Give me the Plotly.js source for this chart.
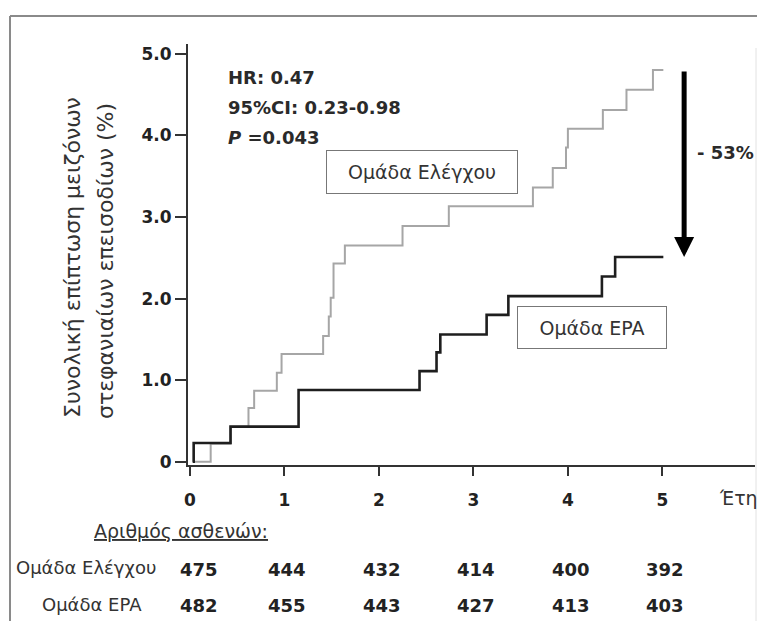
<!DOCTYPE html>
<html>
<head>
<meta charset="utf-8">
<script src="https://cdn.plot.ly/plotly-3.0.1.min.js"></script>
<style>html,body{margin:0;padding:0;background:#fff;}#chart{width:758px;height:621px;}</style>
</head>
<body>
<div id="chart"></div>
<script>
// ---- data ----
const controlYears = [0.03, 0.22, 0.43, 0.62, 0.68, 0.92, 0.97, 1.41, 1.47, 1.49, 1.52, 1.64, 2.25, 2.74, 3.63, 3.84, 3.98, 4.00, 4.37, 4.62, 4.90, 5.01];
const controlPct   = [0.00, 0.22, 0.43, 0.66, 0.87, 1.09, 1.32, 1.54, 1.78, 2.01, 2.43, 2.65, 2.89, 3.13, 3.36, 3.60, 3.85, 4.08, 4.31, 4.56, 4.80, 4.80];
const epaYears = [0.03, 0.04, 0.43, 1.15, 2.43, 2.61, 2.65, 3.14, 3.37, 4.36, 4.50, 5.01];
const epaPct   = [0.00, 0.23, 0.43, 0.88, 1.11, 1.34, 1.56, 1.80, 2.03, 2.27, 2.51, 2.51];

const xTickVals = [0, 1, 2, 3, 4, 5];
const xTickText = ['0', '1', '2', '3', '4', '5'];
const yTickVals = [0, 1, 2, 3, 4, 5];
const yTickText = ['0', '1.0', '2.0', '3.0', '4.0', '5.0'];

const riskYears = [0, 1, 2, 3, 4, 5];
const controlAtRisk = [475, 444, 432, 414, 400, 392];
const epaAtRisk = [482, 455, 443, 427, 413, 403];

const groupNames = ['Ομάδα Ελέγχου', 'Ομάδα EPA'];
const statsLines = ['HR: 0.47', '95%CI: 0.23-0.98', '<i>P</i> =0.043'];
const reductionLabel = '- 53%';
const yTitleLines = ['Συνολική επίπτωση μειζόνων', 'στεφανιαίων επεισοδίων (%)'];
const xTitle = 'Έτη';
const riskHeader = 'Αριθμός ασθενών:';

// ---- styling / layout ----
const FONT = 'DejaVu Sans, Arial, sans-serif';
const L = 188, T = 44, PW = 567, PH = 421;      // plot area in pixels
const px = v => (v - L) / PW;                    // pixel -> paper x
const py = v => (T + PH - v) / PH;               // pixel -> paper y

const traces = [
  {x: controlYears, y: controlPct, type: 'scatter', mode: 'lines', line: {shape: 'hv', color: '#a6a6a6', width: 2}, hoverinfo: 'skip', name: groupNames[0]},
  {x: epaYears, y: epaPct, type: 'scatter', mode: 'lines', line: {shape: 'hv', color: '#1e1e1e', width: 2.6}, hoverinfo: 'skip', name: groupNames[1]}
];

const ann = [];
const statsY = [4.71, 4.34, 3.97];
statsLines.forEach((t, i) => ann.push({xref: 'x', yref: 'y', x: 0.38, y: statsY[i], xanchor: 'left', yanchor: 'middle', text: '<b>' + t + '</b>', showarrow: false, font: {family: FONT, size: 18, color: '#2a2a2a'}}));
ann.push({xref: 'x', yref: 'y', x: 2.46, y: 3.55, xanchor: 'center', yanchor: 'middle', text: groupNames[0], showarrow: false, width: 190, height: 42, bordercolor: '#777', borderwidth: 1, borderpad: 0, bgcolor: '#fff', font: {family: FONT, size: 19, color: '#333'}});
ann.push({xref: 'x', yref: 'y', x: 4.26, y: 1.65, xanchor: 'center', yanchor: 'middle', text: groupNames[1], showarrow: false, width: 148, height: 41, bordercolor: '#777', borderwidth: 1, borderpad: 0, bgcolor: '#fff', font: {family: FONT, size: 19, color: '#333'}});
ann.push({xref: 'x', yref: 'y', x: 5.23, y: 2.51, axref: 'x', ayref: 'y', ax: 5.23, ay: 4.80, text: '', showarrow: true, arrowhead: 2, arrowsize: 0.8, arrowwidth: 5, arrowcolor: '#000'});
ann.push({xref: 'x', yref: 'y', x: 5.35, y: 3.79, xanchor: 'left', yanchor: 'middle', text: '<b>' + reductionLabel + '</b>', showarrow: false, font: {family: FONT, size: 18, color: '#2a2a2a'}});
ann.push({xref: 'paper', yref: 'paper', x: px(72), y: py(258), xanchor: 'center', yanchor: 'middle', text: yTitleLines[0], textangle: -90, showarrow: false, font: {family: FONT, size: 22, color: '#333'}});
ann.push({xref: 'paper', yref: 'paper', x: px(105), y: py(261), xanchor: 'center', yanchor: 'middle', text: yTitleLines[1], textangle: -90, showarrow: false, font: {family: FONT, size: 22, color: '#333'}});
ann.push({xref: 'paper', yref: 'paper', x: px(738), y: py(498), xanchor: 'center', yanchor: 'middle', text: xTitle, showarrow: false, font: {family: FONT, size: 19, color: '#333'}});
ann.push({xref: 'paper', yref: 'paper', x: px(181), y: py(531), xanchor: 'center', yanchor: 'middle', text: '<u>' + riskHeader + '</u>', showarrow: false, font: {family: FONT, size: 19, color: '#333'}});
ann.push({xref: 'paper', yref: 'paper', x: px(86), y: py(567), xanchor: 'center', yanchor: 'middle', text: groupNames[0], showarrow: false, font: {family: FONT, size: 18, color: '#333'}});
ann.push({xref: 'paper', yref: 'paper', x: px(92), y: py(604), xanchor: 'center', yanchor: 'middle', text: groupNames[1], showarrow: false, font: {family: FONT, size: 18, color: '#333'}});
riskYears.forEach((yr, i) => {
  const sh = i === 0 ? 9 : 3;
  ann.push({xref: 'x', yref: 'paper', x: yr, xshift: sh, y: py(569), xanchor: 'center', yanchor: 'middle', text: '<b>' + controlAtRisk[i] + '</b>', showarrow: false, font: {family: FONT, size: 18, color: '#222'}});
  ann.push({xref: 'x', yref: 'paper', x: yr, xshift: sh, y: py(605), xanchor: 'center', yanchor: 'middle', text: '<b>' + epaAtRisk[i] + '</b>', showarrow: false, font: {family: FONT, size: 18, color: '#222'}});
});

const shapes = [
  {type: 'line', xref: 'paper', yref: 'paper', x0: px(10), x1: px(10), y0: py(16), y1: py(640), line: {color: '#8a8a8a', width: 2}},
  {type: 'line', xref: 'paper', yref: 'paper', x0: px(10), x1: px(757), y0: py(16), y1: py(16), line: {color: '#8a8a8a', width: 2}},
  {type: 'line', xref: 'paper', yref: 'paper', x0: px(756), x1: px(756), y0: py(48), y1: py(640), line: {color: '#e2e2e2', width: 1}}
];

const layout = {
  width: 758, height: 621,
  margin: {l: L, r: 758 - L - PW, t: T, b: 621 - T - PH},
  paper_bgcolor: '#fff', plot_bgcolor: '#fff',
  showlegend: false,
  xaxis: {range: [-0.02, 5.98], showgrid: false, zeroline: false, showline: true, linecolor: '#333', linewidth: 2,
          ticks: 'outside', ticklen: 9, tickwidth: 2, tickcolor: '#333', tickvals: xTickVals, ticktext: xTickText,
          ticklabelstandoff: 10, tickfont: {family: FONT, size: 17, color: '#222', weight: 'bold'}, fixedrange: true},
  yaxis: {range: [-0.04, 5.12], showgrid: false, zeroline: false, showline: true, linecolor: '#333', linewidth: 2,
          ticks: 'outside', ticklen: 11, tickwidth: 2, tickcolor: '#333', tickvals: yTickVals, ticktext: yTickText,
          tickfont: {family: FONT, size: 17, color: '#222', weight: 'bold'}, fixedrange: true},
  annotations: ann,
  shapes: shapes
};

Plotly.newPlot('chart', traces, layout, {displayModeBar: false, staticPlot: true});
</script>
</body>
</html>
